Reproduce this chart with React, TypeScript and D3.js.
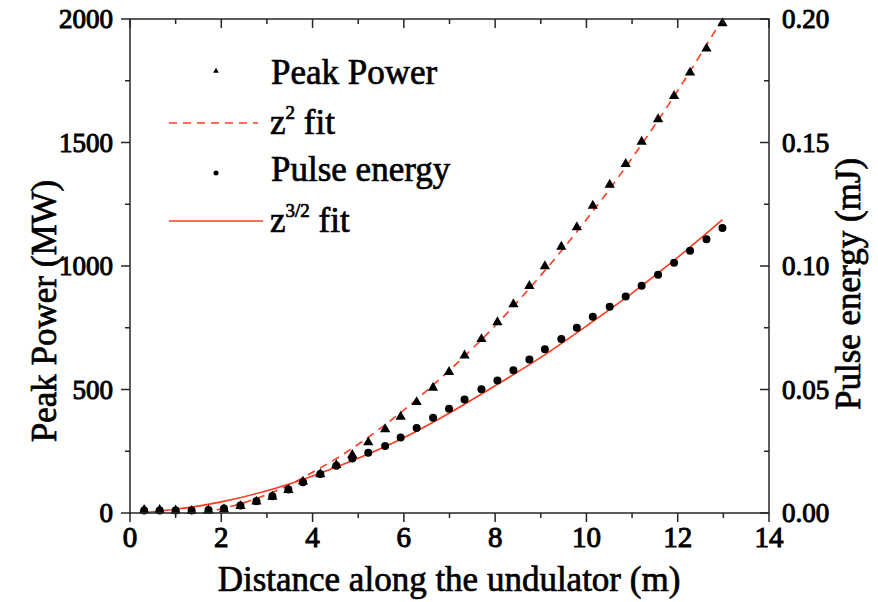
import React from "react";
import * as d3 from "d3";

// Distance along the undulator (m) for each measured point
const zPoints = [
  0.31, 0.65, 1.0, 1.35, 1.72, 2.06, 2.42, 2.77, 3.12, 3.47, 3.79, 4.17, 4.52,
  4.87, 5.22, 5.59, 5.93, 6.28, 6.64, 6.99, 7.33, 7.7, 8.05, 8.4, 8.75, 9.09,
  9.45, 9.79, 10.14, 10.51, 10.86, 11.21, 11.57, 11.92, 12.27, 12.63, 12.98,
];

// Peak power (MW)
const peakPower = [
  12, 12, 10, 8, 10, 15, 28, 46, 66, 93, 127, 157, 194, 235, 286, 339, 390,
  449, 507, 571, 638, 704, 772, 845, 919, 999, 1078, 1157, 1244, 1329, 1413,
  1503, 1594, 1688, 1783, 1880, 1983,
];

// Pulse energy (mJ)
const pulseEnergy = [
  0.001, 0.001, 0.001, 0.001, 0.0012, 0.0018, 0.003, 0.0048, 0.0068, 0.0095,
  0.0125, 0.0158, 0.0191, 0.0221, 0.0244, 0.0271, 0.0306, 0.0344, 0.0386,
  0.0422, 0.046, 0.0501, 0.0536, 0.0578, 0.0621, 0.0663, 0.0704, 0.075,
  0.0795, 0.0835, 0.0877, 0.092, 0.0965, 0.1013, 0.1062, 0.1108, 0.1154,
];

// z^2 fit curve of the peak power
const fit2Z = [1.6, 2, 2.5, 3, 3.5, 4, 4.5, 5, 5.5, 6, 7, 8, 9, 10, 11, 12, 13];
const fit2Power = [0, 17, 42, 75, 115, 165, 218, 278, 345, 417, 578, 758, 962, 1188, 1437, 1710, 2006];

// z^(3/2) fit curve of the pulse energy
const fit32Z = [0.2, 1, 2, 3, 4, 5, 6, 7, 8, 9, 10, 11, 12, 12.98];
const fit32Energy = [0, 0.0015, 0.0045, 0.009, 0.015, 0.0222, 0.0305, 0.0405, 0.0515, 0.063, 0.0757, 0.089, 0.1035, 0.1188];

const xTicks = [0, 2, 4, 6, 8, 10, 12, 14];
const powerTicks = [0, 500, 1000, 1500, 2000];
const energyTicks = [0, 0.05, 0.1, 0.15, 0.2];

const W = 878;
const H = 602;
const M = { left: 130, right: 769, top: 19, bottom: 513 };
const RED = "#ff3b1f";
const AXIS = "#262626";
const FONT = "'Liberation Serif', 'Times New Roman', serif";
const TXT = { fill: "#000", stroke: "#000", strokeWidth: 0.7 };
const TICK_TXT = { fill: "#000", stroke: "#000", strokeWidth: 1.0 };

const x = d3.scaleLinear().domain([0, 14]).range([M.left, M.right]);
const yP = d3.scaleLinear().domain([0, 2000]).range([M.bottom, M.top]);
const yE = d3.scaleLinear().domain([0, 0.2]).range([M.bottom, M.top]);

const triPath = d3.symbol(d3.symbolTriangle, 46)()!;
const triSmall = d3.symbol(d3.symbolTriangle, 14)()!;

export default function App() {
  const powerFit = d3
    .line<number>()
    .x((_, i) => x(fit2Z[i]))
    .y((d) => yP(d))
    .curve(d3.curveMonotoneX)(fit2Power)!;
  const energyFit = d3
    .line<number>()
    .x((_, i) => x(fit32Z[i]))
    .y((d) => yE(d))
    .curve(d3.curveMonotoneX)(fit32Energy)!;

  const xMinor = d3.range(0, 14.01, 1);
  const pMinor = d3.range(0, 2000.1, 250);
  const eMinor = d3.range(0, 0.2001, 0.025);

  return (
    <svg
      width={W}
      height={H}
      style={{ position: "absolute", left: 0, top: 0, background: "#fff" }}
      fontFamily={FONT}
    >
      <rect x={0} y={0} width={W} height={H} fill="#fff" />

      {/* fits */}
      <path d={powerFit} fill="none" stroke={RED} strokeWidth={1.6} strokeDasharray="8,6" />
      <path d={energyFit} fill="none" stroke={RED} strokeWidth={1.6} />

      {/* measured points */}
      {zPoints.map((z, i) => (
        <circle key={"e" + i} cx={x(z)} cy={yE(pulseEnergy[i])} r={4} fill="#000" />
      ))}
      {zPoints.map((z, i) => (
        <path key={"p" + i} d={triPath} transform={`translate(${x(z)},${yP(peakPower[i])})`} fill="#000" />
      ))}

      {/* frame */}
      <rect
        x={M.left}
        y={M.top}
        width={M.right - M.left}
        height={M.bottom - M.top}
        fill="none"
        stroke={AXIS}
        strokeWidth={1.5}
      />

      {/* bottom and top ticks */}
      {xMinor.map((v) => {
        const major = v % 2 === 0;
        const len = major ? 9 : 5;
        return (
          <g key={"xt" + v} stroke={AXIS} strokeWidth={1.5}>
            <line x1={x(v)} x2={x(v)} y1={M.bottom} y2={M.bottom + len} />
            <line x1={x(v)} x2={x(v)} y1={M.top} y2={M.top + len} />
          </g>
        );
      })}
      {xTicks.map((v) => (
        <text key={"xl" + v} x={x(v)} y={547} fontSize={29} textAnchor="middle" {...TICK_TXT}>
          {v}
        </text>
      ))}

      {/* left ticks */}
      {pMinor.map((v) => {
        const major = v % 500 === 0;
        return (
          <line
            key={"pt" + v}
            x1={M.left}
            x2={M.left - (major ? 9 : 5)}
            y1={yP(v)}
            y2={yP(v)}
            stroke={AXIS}
            strokeWidth={1.5}
          />
        );
      })}
      {powerTicks.map((v) => (
        <text key={"pl" + v} x={113} y={yP(v) + 9} fontSize={27} textAnchor="end" {...TICK_TXT}>
          {v}
        </text>
      ))}

      {/* right ticks */}
      {eMinor.map((v, i) => {
        const major = i % 2 === 0;
        return (
          <line
            key={"et" + i}
            x1={M.right}
            x2={M.right - (major ? 9 : 5)}
            y1={yE(v)}
            y2={yE(v)}
            stroke={AXIS}
            strokeWidth={1.5}
          />
        );
      })}
      {energyTicks.map((v) => (
        <text key={"el" + v} x={782} y={yE(v) + 9} fontSize={27} textAnchor="start" {...TICK_TXT}>
          {d3.format(".2f")(v)}
        </text>
      ))}

      {/* axis titles */}
      <text x={449} y={591} fontSize={35} textAnchor="middle" {...TXT}>
        Distance along the undulator (m)
      </text>
      <text transform="translate(56,311) rotate(-90)" fontSize={35} textAnchor="middle" {...TXT}>
        Peak Power (MW)
      </text>
      <text transform="translate(860,284) rotate(-90)" fontSize={35} textAnchor="middle" {...TXT}>
        Pulse energy (mJ)
      </text>

      {/* legend */}
      <g>
        <path d={triSmall} transform="translate(216,71)" fill="#000" />
        <text x={271} y={84} fontSize={35} {...TXT}>Peak Power</text>

        <line x1={169} x2={258} y1={123} y2={123} stroke={RED} strokeWidth={1.6} strokeDasharray="8,6" />
        <text x={270} y={134} fontSize={35} {...TXT}>
          z<tspan dy={-15} fontSize={19}>2</tspan>
          <tspan dy={15}> fit</tspan>
        </text>

        <circle cx={216} cy={173} r={2.5} fill="#000" />
        <text x={271} y={181} fontSize={35} {...TXT}>Pulse energy</text>

        <line x1={169} x2={263} y1={221} y2={221} stroke={RED} strokeWidth={1.6} />
        <text x={270} y={232} fontSize={35} {...TXT}>
          z<tspan dy={-15} fontSize={19}>3/2</tspan>
          <tspan dy={15}> fit</tspan>
        </text>
      </g>
    </svg>
  );
}
